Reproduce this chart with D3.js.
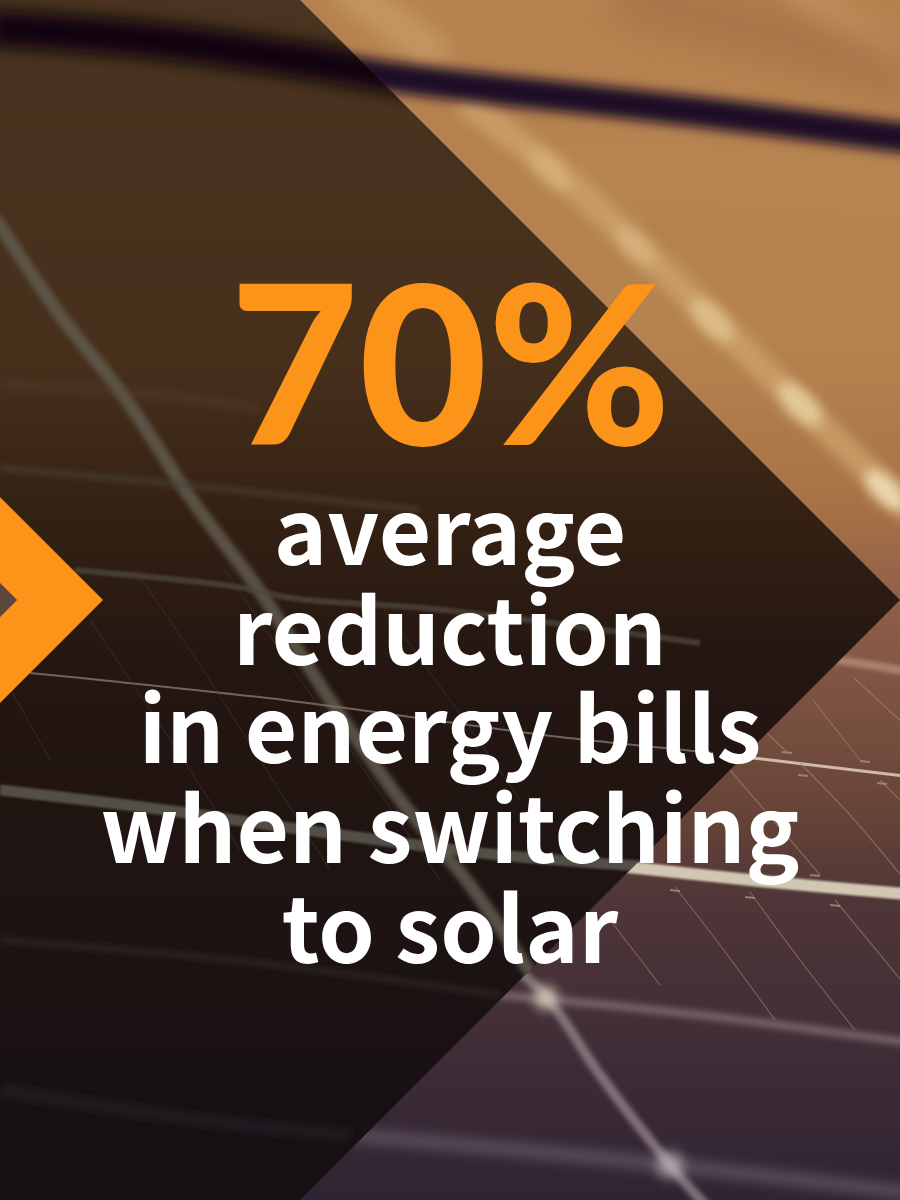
<!DOCTYPE html>
<html>
<head>
<meta charset="utf-8">
<title>70% average reduction</title>
<script src="https://cdn.jsdelivr.net/npm/d3@7"></script>
<style>
  html, body { margin: 0; padding: 0; background: #1a1012; }
  svg { display: block; }
  text { text-anchor: middle; font-variant-ligatures: none; }
  .headline { font-family: Lato, sans-serif; font-weight: 900; }
  .body { font-family: "Noto Sans CJK SC", "Noto Sans", sans-serif; font-weight: 700; }
</style>
</head>
<body>
<div id="chart"></div>
<script>
// Text and the one value
const headlineValue = 70;
const bodyLines = ['average', 'reduction', 'in energy bills', 'when switching', 'to solar'];
const bodyBaselines = [565, 665, 763, 863, 963];

// Colours of the blurred photo, top to bottom
const photoStops = [
  [0, '#b5824f'], [0.28, '#b5834f'], [0.42, '#a87246'], [0.5, '#8f6048'],
  [0.58, '#7c5243'], [0.67, '#684538'], [0.75, '#4f3637'], [0.86, '#412e37'], [1, '#2f2433']
];
const overlayStops = [
  [0, '#4a3320'], [0.3, '#46301c'], [0.42, '#362214'], [0.55, '#241611'],
  [0.72, '#1f1412'], [0.88, '#191113'], [1, '#151013']
];

// Paths of the panel frame lines in the photo (visible outside the overlay)
const darkBand = [[250, 55], [400, 78], [500, 90], [700, 112], [920, 140]];
const softBands = [
  { pts: [[350, -10], [430, 50]], w: 36, c: '#d0a56e', o: 0.55, b: 10 },
  { pts: [[800, -5], [905, 60]], w: 30, c: '#d0a56e', o: 0.45, b: 10 },
  { pts: [[640, 0], [760, 30], [900, 70]], w: 60, c: '#a2683f', o: 0.5, b: 16 },
  { pts: [[470, 105], [560, 175], [640, 248], [715, 322], [800, 405], [910, 510]], w: 26, c: '#cfa46c', o: 0.75, b: 6 },
  { pts: [[560, 170], [800, 180], [900, 190]], w: 60, c: '#c49a60', o: 0.1, b: 18 },
  { pts: [[667, 642], [837, 660], [905, 671]], w: 8, c: '#b59078', o: 0.8, b: 2 },
  { pts: [[500, 995], [700, 1015], [905, 1042]], w: 8, c: '#8a7478', o: 0.75, b: 3 },
  { pts: [[350, 1135], [520, 1150], [670, 1165], [905, 1192]], w: 14, c: '#6a5968', o: 0.7, b: 6 },
  { pts: [[510, 965], [545, 995], [600, 1075], [670, 1165], [705, 1205]], w: 10, c: '#8c7c82', o: 0.85, b: 2.5 },
  { pts: [[560, 737], [713, 753], [753, 758], [905, 776]], w: 3, c: '#dcc6ae', o: 0.9, b: 0.4 },
  { pts: [[600, 864], [760, 881], [905, 894]], w: 12, c: '#d8cfb8', o: 0.95, b: 0.8 }
];
const thinLines = [
  [[730, 770], [767, 813], [793, 843], [820, 875]], [[800, 763], [850, 815], [905, 880]],
  [[880, 780], [905, 805]], [[767, 733], [787, 752]], [[813, 700], [860, 760]],
  [[853, 677], [905, 725]], [[675, 887], [720, 945], [775, 1020]], [[750, 892], [800, 960], [855, 1030]],
  [[835, 900], [905, 985]], [[610, 920], [660, 985]]
];
const panelTicks = [
  [787, 752], [865, 761], [803, 775], [882, 783], [815, 875], [675, 890], [750, 897], [835, 905]
];
// Bright spots where the blurred frame lines cross, stretched along the diagonal
const glowSpots = [
  { x: 550, y: 170, rx: 26, ry: 12, o: 0.5, c: '#e0c08a' }, { x: 635, y: 246, rx: 26, ry: 12, o: 0.55, c: '#e0c08a' },
  { x: 712, y: 320, rx: 28, ry: 13, o: 0.65, c: '#e8cc98' }, { x: 800, y: 404, rx: 28, ry: 13, o: 0.75, c: '#ecd8a8' },
  { x: 885, y: 490, rx: 26, ry: 12, o: 0.85, c: '#f2e2b8' }, { x: 546, y: 998, rx: 12, ry: 12, o: 0.8, c: '#d8d0bc' },
  { x: 670, y: 1165, rx: 14, ry: 14, o: 0.6, c: '#c8c0c4' }
];

// Lines seen through the dark overlay
const shadedBands = [
  { pts: [[-10, 28], [150, 40], [300, 60], [420, 80]], w: 36, c: '#070308', o: 0.95, b: 8 },
  { pts: [[-5, 218], [60, 315], [125, 398], [192, 500], [261, 593], [330, 700], [398, 797], [470, 885], [545, 995]], w: 13, c: '#5f5a4c', o: 0.85, b: 2.5 },
  { pts: [[0, 385], [130, 392], [260, 408]], w: 8, c: '#5a4630', o: 0.4, b: 4 },
  { pts: [[0, 468], [167, 483], [300, 497], [420, 510]], w: 7, c: '#4a4034', o: 0.6, b: 2.5 },
  { pts: [[75, 570], [238, 587], [291, 598], [444, 610], [700, 643]], w: 6, c: '#4c453c', o: 0.75, b: 1.2 },
  { pts: [[30, 673], [100, 680], [284, 700], [483, 727], [560, 737], [713, 753]], w: 2, c: '#79736a', o: 0.85, b: 0.3 },
  { pts: [[0, 790], [150, 808], [320, 832], [500, 855], [640, 866]], w: 11, c: '#5c5a50', o: 0.85, b: 1 },
  { pts: [[0, 940], [250, 962], [500, 995]], w: 6, c: '#33292a', o: 0.7, b: 3 },
  { pts: [[0, 1090], [200, 1120], [350, 1135]], w: 10, c: '#2a2226', o: 0.7, b: 5 }
];
const shadedThin = [
  [[90, 620], [130, 680], [190, 770], [240, 850]], [[135, 570], [200, 665], [260, 760], [330, 870]],
  [[225, 570], [290, 665], [350, 750], [440, 880]], [[0, 670], [50, 760]],
  [[370, 590], [450, 700], [520, 800]]
];

const width = 900;
const height = 1200;

const svg = d3.select('#chart').append('svg')
  .attr('width', width)
  .attr('height', height)
  .attr('viewBox', `0 0 ${width} ${height}`);

const defs = svg.append('defs');

function addGradient(id, stops) {
  const grad = defs.append('linearGradient').attr('id', id)
    .attr('gradientUnits', 'userSpaceOnUse')
    .attr('x1', 0).attr('y1', 0).attr('x2', 0).attr('y2', height);
  stops.forEach(s => grad.append('stop').attr('offset', s[0]).attr('stop-color', s[1]));
}
addGradient('photo', photoStops);
addGradient('overlay', overlayStops);

const blurs = new Set([...softBands, ...shadedBands].map(d => d.b).concat([6, 12]));
blurs.forEach(b => {
  // whole canvas as filter region, so the blur is never cut at a line's bounding box
  defs.append('filter').attr('id', 'blur' + String(b).replace('.', '_'))
    .attr('filterUnits', 'userSpaceOnUse')
    .attr('x', -50).attr('y', -50).attr('width', width + 100).attr('height', height + 100)
    .append('feGaussianBlur').attr('stdDeviation', b);
});
const blurId = b => `url(#blur${String(b).replace('.', '_')})`;

const curve = d3.line().curve(d3.curveCatmullRom.alpha(0.5));

// x extent of the big arrow: flat left of 300, point at the right edge
const arrowX = d3.scaleLinear().domain([0, 1]).range([300, width]);
const arrowPts = [[0, 0], [arrowX(0), 0], [arrowX(1), height / 2], [arrowX(0), height], [0, height]];

// Photo layer
const photo = svg.append('g');
photo.append('rect').attr('width', width).attr('height', height).attr('fill', 'url(#photo)');

photo.selectAll('path.soft').data(softBands).join('path')
  .attr('class', 'soft')
  .attr('d', d => curve(d.pts))
  .attr('fill', 'none')
  .attr('stroke', d => d.c)
  .attr('stroke-width', d => d.w)
  .attr('stroke-opacity', d => d.o)
  .attr('filter', d => blurId(d.b))
  .attr('stroke-linecap', 'round');

photo.append('path')
  .attr('d', curve(darkBand))
  .attr('fill', 'none')
  .attr('stroke', '#1b0d26')
  .attr('stroke-width', 30)
  .attr('filter', blurId(6));

photo.selectAll('path.thin').data(thinLines).join('path')
  .attr('class', 'thin')
  .attr('d', d => curve(d))
  .attr('fill', 'none')
  .attr('stroke', '#a88a78')
  .attr('stroke-opacity', 0.55)
  .attr('stroke-width', 1.2);

photo.selectAll('line.tick').data(panelTicks).join('line')
  .attr('class', 'tick')
  .attr('x1', d => d[0] - 5).attr('x2', d => d[0] + 5)
  .attr('y1', d => d[1]).attr('y2', d => d[1] + 1)
  .attr('stroke', '#b59a88')
  .attr('stroke-opacity', 0.7)
  .attr('stroke-width', 2);

photo.selectAll('ellipse').data(glowSpots).join('ellipse')
  .attr('rx', d => d.rx).attr('ry', d => d.ry)
  .attr('transform', d => `translate(${d.x},${d.y}) rotate(45)`)
  .attr('fill', d => d.c).attr('fill-opacity', d => d.o)
  .attr('filter', blurId(6));

// Dark arrow over the photo, with the photo's lines showing faintly through it
svg.append('clipPath').attr('id', 'arrow-clip')
  .append('polygon').attr('points', arrowPts.map(p => p.join(',')).join(' '));

const shaded = svg.append('g').attr('clip-path', 'url(#arrow-clip)');
shaded.append('rect').attr('width', width).attr('height', height).attr('fill', 'url(#overlay)');

shaded.selectAll('path.band').data(shadedBands).join('path')
  .attr('class', 'band')
  .attr('d', d => curve(d.pts))
  .attr('fill', 'none')
  .attr('stroke', d => d.c)
  .attr('stroke-width', d => d.w)
  .attr('stroke-opacity', d => d.o)
  .attr('filter', d => blurId(d.b));

shaded.selectAll('path.fine').data(shadedThin).join('path')
  .attr('class', 'fine')
  .attr('d', d => curve(d))
  .attr('fill', 'none')
  .attr('stroke', '#4a423c')
  .attr('stroke-opacity', 0.4)
  .attr('stroke-width', 1.2);

// Orange chevron cut by the left edge
const chevronTip = 103;
const chevronInner = 17;
svg.append('polygon')
  .attr('points', `0,583 ${chevronInner},600 0,617`)
  .attr('fill', '#5f463e');
svg.append('polygon')
  .attr('points', `0,497 ${chevronTip},600 0,703 0,617 ${chevronInner},600 0,583`)
  .attr('fill', '#fc9419');

// Headline and body text
svg.append('text')
  .attr('class', 'headline')
  .attr('x', 450.5)
  .attr('y', 445)
  .attr('font-size', 222)
  .attr('fill', '#fc9419')
  .text(`${headlineValue}%`);

svg.selectAll('text.body').data(bodyLines).join('text')
  .attr('class', 'body')
  .attr('x', 450)
  .attr('y', (d, i) => bodyBaselines[i])
  .attr('font-size', 90.5)
  .attr('fill', '#ffffff')
  .text(d => d);
</script>
</body>
</html>
